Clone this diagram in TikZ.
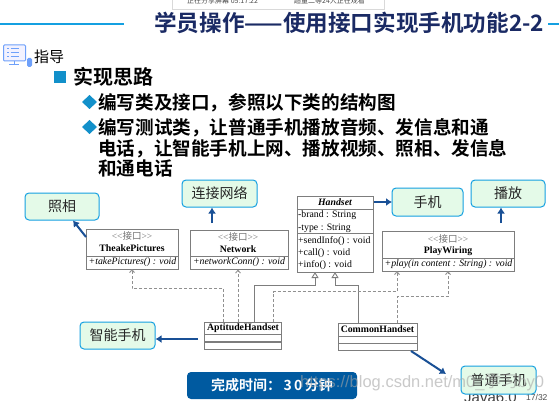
\documentclass[tikz,border=0pt]{standalone}
\usepackage{fontspec}
\setmainfont{Liberation Serif}
\newfontfamily\cjk{Noto Sans CJK SC}
\newfontfamily\cjkb{Noto Sans CJK SC Bold}
\newfontfamily\sans{Liberation Sans}
\usetikzlibrary{arrows.meta}
\definecolor{navy}{RGB}{26,42,100}
\definecolor{cyanline}{RGB}{20,160,225}
\definecolor{bubble}{RGB}{228,250,232}
\definecolor{blueArrow}{RGB}{25,80,150}
\definecolor{bannerblue}{RGB}{0,90,160}
\definecolor{umlgray}{RGB}{125,125,125}
\definecolor{iconblue}{RGB}{110,160,250}
\tikzset{
  x=1pt,y=-1pt,
  bubblebox/.style={draw=cyanline,fill=bubble,line width=1pt,rounded corners=4pt,inner sep=0pt,text=black!85,font=\cjk\fontsize{14}{14}\selectfont,anchor=center},
  umlbox/.style={draw=umlgray,fill=white,line width=.9pt},
  umlline/.style={draw=umlgray,line width=.9pt},
  gen/.style={umlline,-{Triangle[open,fill=white,length=6pt,width=7pt]}},
  real/.style={draw=umlgray!85,line width=.9pt,dash pattern=on 3pt off 2pt,-{Straight Barb[length=3pt,width=5pt]}},
  callout/.style={draw=blueArrow,line width=2pt,-{Latex[length=6pt,width=8pt]}},
  bodytxt/.style={anchor=west,inner sep=0pt,font=\cjkb\fontsize{18.6}{19}\selectfont,text=black},
  uml/.style={inner sep=0pt,text=black,font=\fontsize{9.8}{10}\selectfont},
  umlb/.style={uml,font=\bfseries\fontsize{9.8}{10}\selectfont},
  umli/.style={uml,font=\itshape\fontsize{9.8}{10}\selectfont},
  umls/.style={inner sep=0pt,text=black!55,font=\fontsize{9.5}{10}\selectfont},
}
\begin{document}
\begin{tikzpicture}
\useasboundingbox (0,0) rectangle (559,401);
\fill[white] (0,0) rectangle (559,401);
% popup at top
\draw[draw=black!15,fill=white,line width=.8pt] (172,-3) rectangle (384,9);
\node[inner sep=0pt,anchor=west,font=\cjk\fontsize{7}{7}\selectfont,text=black!70] (p1) at (187,1) {正在分享屏幕\ 05:17:22};
\node[inner sep=0pt,anchor=west,font=\cjk\fontsize{7}{7}\selectfont,text=black!70] (p2) at (294,1) {超量二等24人正在观看};
% title
\coordinate (ruleA) at (0,24); \coordinate (ruleB) at (124,24);
\coordinate (ruleC) at (548,24); \coordinate (ruleD) at (559,24);
\draw[cyanline,line width=1.5pt] (ruleA)--(ruleB) (ruleC)--(ruleD);
\node[anchor=west,inner sep=0pt,text=navy,font=\cjkb\fontsize{22.6}{23}\selectfont] (title) at (154,23) {学员操作——使用接口实现手机功能2-2};
% icon
\draw[draw=iconblue,fill=blue!5,line width=1pt,rounded corners=1pt] (3.5,45) rectangle (25.5,61);
\foreach \yy in {48.5,52.5,56.5}{\draw[iconblue,line width=.9pt] (7,\yy)--(8.5,\yy) (10.5,\yy)--(19,\yy);}
\draw[iconblue,line width=1pt] (14,61)--(14,64) (9,64.5)--(19,64.5);
\fill[iconblue,rounded corners=1.5pt] (27,58) rectangle (32,67);
\node[inner sep=0pt,anchor=west,font=\cjk\fontsize{15}{15}\selectfont] (guide) at (34,57) {指导};
% bullets
\fill[cyanline!90!black] (54,71) rectangle (66,83);
\node[bodytxt,font=\cjkb\fontsize{20}{20}\selectfont] (t0) at (73,77) {实现思路};
\fill[cyanline!90!black] (82,102)--(89.5,95)--(97,102)--(89.5,109)--cycle;
\node[bodytxt] (t1) at (98,103) {编写类及接口，参照以下类的结构图};
\fill[cyanline!90!black] (82,127)--(89.5,120)--(97,127)--(89.5,134)--cycle;
\node[bodytxt] (t2) at (98,128) {编写测试类，让普通手机播放音频、发信息和通};
\node[bodytxt] (t3) at (98,149) {电话，让智能手机上网、播放视频、照相、发信息};
\node[bodytxt] (t4) at (98,168) {和通电话};
% footer (the bubble lies over it)
\node[inner sep=0pt,anchor=west,font=\sans\fontsize{15}{15}\selectfont,text=black!75] (jv) at (464,397) {Java6.0};
\node[inner sep=0pt,anchor=west,font=\sans\fontsize{8.5}{8.5}\selectfont,text=black!70] (pg) at (526,397) {17/32};
% bubbles
\node[bubblebox,minimum width=74pt,minimum height=27pt] (zx) at (62,206.5) {照相};
\node[bubblebox,minimum width=75pt,minimum height=27pt] (lj) at (219.5,193.5) {连接网络};
\node[bubblebox,minimum width=71pt,minimum height=28pt] (sj) at (427.5,202) {手机};
\node[bubblebox,minimum width=74pt,minimum height=27pt] (bf) at (508,193.5) {播放};
\node[bubblebox,minimum width=75pt,minimum height=27pt] (zn) at (117.5,335.5) {智能手机};
\node[bubblebox,minimum width=75pt,minimum height=28pt] (pt) at (498.5,380) {普通手机};
% UML TheakePictures
\draw[umlbox] (86.5,229) rectangle (178,269);
\draw[umlline] (86.5,256) -- (178,256);
\node[umls] (tp0) at (132,236) {<{}<{\cjk 接口}>{}>};
\node[umlb] (tp1) at (132,248.5) {TheakePictures};
\node[umli] (tp2) at (132.5,262) {+takePictures() : void};
\coordinate (tpA) at (132,269);
% Network
\draw[umlbox] (190,230) rectangle (288,269.5);
\draw[umlline] (190,256) -- (288,256);
\node[umls] (nw0) at (238,237) {<{}<{\cjk 接口}>{}>};
\node[umlb] (nw1) at (238,249.5) {Network};
\node[umli] (nw2) at (239,262.5) {+networkConn() : void};
\coordinate (nwA) at (238,269.5);
% Handset
\draw[umlbox] (297,196) rectangle (373,272);
\draw[umlline] (297,209) -- (373,209) (297,233.5) -- (373,233.5);
\node[umlb,font=\bfseries\itshape\fontsize{9.8}{10}\selectfont] (hs) at (335,202.5) {Handset};
\node[uml,anchor=west] (h1) at (298,215.5) {-brand : String};
\node[uml,anchor=west] (h2) at (298,228) {-type : String};
\node[uml,anchor=west] (h3) at (298,241) {+sendInfo() : void};
\node[uml,anchor=west] (h4) at (298,253) {+call() : void};
\node[uml,anchor=west] (h5) at (298,265) {+info() : void};
\coordinate (hsA) at (315,272); \coordinate (hsB) at (335,272);
% PlayWiring
\draw[umlbox] (382.5,231.5) rectangle (514,271);
\draw[umlline] (382.5,258) -- (514,258);
\node[umls] (pw0) at (448,238.5) {<{}<{\cjk 接口}>{}>};
\node[umlb] (pw1) at (448,251) {PlayWiring};
\node[umli] (pw2) at (448.5,264.5) {+play(in content : String) : void};
\coordinate (pwA) at (397,271); \coordinate (pwB) at (448,271);
% AptitudeHandset
\draw[umlbox] (204.5,322) rectangle (281.5,349);
\draw[umlline,line width=1.1pt] (204.5,334.5) -- (281.5,334.5) (204.5,342) -- (281.5,342);
\node[umlb] (ah) at (243,328) {AptitudeHandset};
% CommonHandset
\draw[umlbox] (338.5,323) rectangle (417,350);
\draw[umlline] (338.5,336) -- (417,336) (338.5,343) -- (417,343);
\node[umlb] (ch) at (377.5,329.5) {CommonHandset};
% relations
\coordinate (ahA) at (223.5,322); \coordinate (ahB) at (238,322); \coordinate (ahC) at (254.5,322); \coordinate (ahD) at (273,322);
\coordinate (chA) at (358.5,323); \coordinate (chB) at (397,323);
\draw[real] (ahA) -- (223.5,288.5) -- (132,288.5) -- (tpA);
\draw[real] (ahB) -- (nwA);
\draw[gen] (ahC) -- (254.5,285.5) -- (315,285.5) -- (hsA);
\draw[gen] (chA) -- (358.5,285.5) -- (335,285.5) -- (hsB);
\draw[real] (ahD) -- (273,291.5) -- (397,291.5) -- (pwA);
\draw[real] (chB) -- (397,296.5) -- (448,296.5) -- (pwB);
% callouts
\coordinate (c1a) at (86,237); \coordinate (c1b) at (73,220.5);
\coordinate (c2a) at (212,223); \coordinate (c2b) at (212,207.5);
\coordinate (c3a) at (374,202); \coordinate (c3b) at (392,202);
\coordinate (c4a) at (501,223); \coordinate (c4b) at (501,207.5);
\coordinate (c5a) at (198,339); \coordinate (c5b) at (155.5,339);
\coordinate (c6a) at (411,351); \coordinate (c6b) at (446,374);
\draw[callout] (c1a) -- (c1b);
\draw[callout] (c2a) -- (c2b);
\draw[callout] (c3a) -- (c3b);
\draw[callout] (c4a) -- (c4b);
\draw[callout] (c5a) -- (c5b);
\draw[callout] (c6a) -- (c6b);
% banner
\node[fill=bannerblue,rounded corners=4pt,minimum width=170pt,minimum height=27pt,inner sep=0pt,text=white,font=\cjkb\fontsize{14}{14}\selectfont] (ban) at (272,385.5) {完成时间：\,3\,0\,分钟};
% watermark
\node[inner sep=0pt,anchor=west,font=\sans\fontsize{16.5}{16.5}\selectfont,text=black!35,opacity=.6] (wm) at (300,382) {https://blog.csdn.net/m0\_{\cjk 学习}by0};
\end{tikzpicture}
\end{document}
